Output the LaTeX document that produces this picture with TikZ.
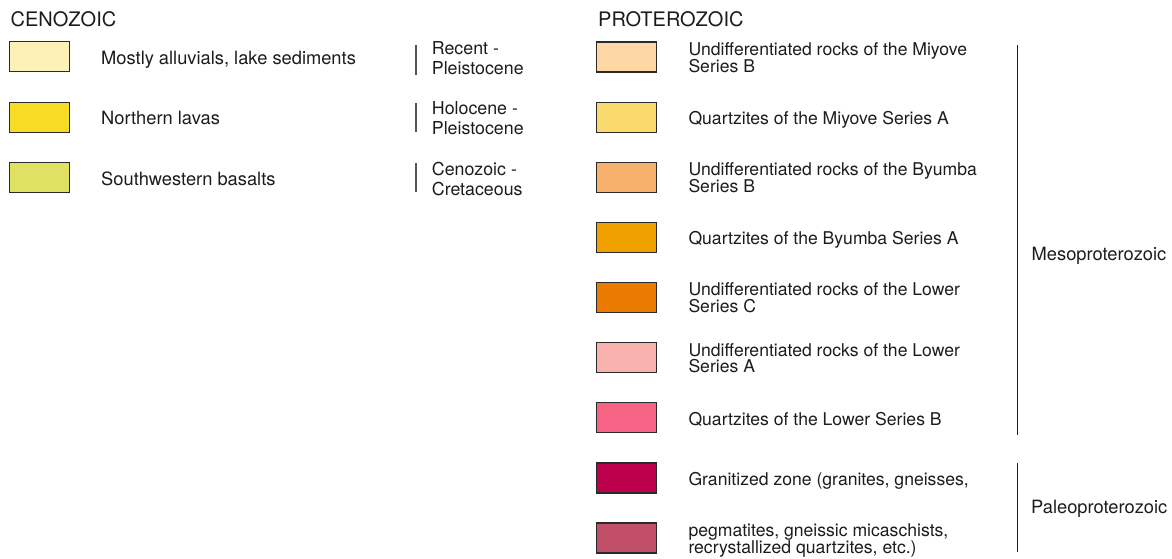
\documentclass[tikz,border=0pt]{standalone}
\usepackage{fontspec}
\setmainfont{TeX Gyre Heros}
\definecolor{txt}{HTML}{1C1C1C}
\definecolor{boxline}{HTML}{2A2A2A}
\definecolor{erabar}{HTML}{555555}
\definecolor{colA}{HTML}{FCF2B8}
\definecolor{colB}{HTML}{F6DC24}
\definecolor{colC}{HTML}{DFE162}
\definecolor{colP}{HTML}{FDD8A4}
\definecolor{colQ}{HTML}{FBDA6D}
\definecolor{colR}{HTML}{F8B16D}
\definecolor{colS}{HTML}{F0A100}
\definecolor{colT}{HTML}{EB7A00}
\definecolor{colU}{HTML}{F8B1AD}
\definecolor{colV}{HTML}{F76384}
\definecolor{colW}{HTML}{BC004B}
\definecolor{colX}{HTML}{C24F69}
\newcommand\lgtwo[2]{\vtop{\lineskiplimit=-20pt\hbox{#1}\hbox{#2}}}
\begin{document}
\begin{tikzpicture}[x=1pt,y=-1pt,
  swatch/.style={draw=boxline, line width=1.1pt, minimum width=60pt, minimum height=30pt, inner sep=0pt},
  lbl/.style={anchor=base west, inner sep=0pt, text=txt, font=\fontsize{17.6}{16.7}\selectfont},
  lbig/.style={anchor=base west, inner sep=0pt, text=txt, font=\fontsize{18.3}{20}\selectfont},
  era/.style={anchor=base west, inner sep=0pt, text=txt, font=\fontsize{17.8}{20}\selectfont},
  ttl/.style={anchor=base west, inner sep=0pt, text=txt, font=\fontsize{20}{24}\selectfont},
  ebar/.style={draw=erabar, line width=1.5pt},
  gbar/.style={draw=txt, line width=1.3pt}]
\useasboundingbox (0,0) rectangle (1172,558);

% titles
\node[ttl] (tcen) at (10.5,26.7) {CENOZOIC};
\node[ttl] (tpro) at (598,26.7) {PROTEROZOIC};

% Cenozoic column
\node[swatch, fill=colA] (ca) at (39.75,56.75) {};
\node[lbig] (cat) at (101,64) {Mostly alluvials, lake sediments};
\coordinate (caa) at (416,45); \coordinate (cab) at (416,74.5);
\draw[ebar] (caa) -- (cab);
\node[era] (cae) at (431.7,54) {\lgtwo{Recent -}{Pleistocene}};

\node[swatch, fill=colB] (cb) at (39.75,117.25) {};
\node[lbig] (cbt) at (101,124.5) {Northern lavas};
\coordinate (cba) at (416,103); \coordinate (cbb) at (416,132);
\draw[ebar] (cba) -- (cbb);
\node[era] (cbe) at (431.7,114.5) {\lgtwo{Holocene -}{Pleistocene}};

\node[swatch, fill=colC] (cc) at (39.75,177.75) {};
\node[lbig] (cct) at (101,185) {Southwestern basalts};
\coordinate (cca) at (416,163); \coordinate (ccb) at (416,192);
\draw[ebar] (cca) -- (ccb);
\node[era] (cce) at (431.7,175) {\lgtwo{Cenozoic -}{Cretaceous}};

% Proterozoic column
\node[swatch, fill=colP] (pa) at (626.7,57) {};
\node[lbl] (pat) at (688.3,55.3) {\lgtwo{Undifferentiated rocks of the Miyove}{Series B}};
\node[swatch, fill=colQ] (pb) at (626.7,117.1) {};
\node[lbl] (pbt) at (688.3,124.4) {Quartzites of the Miyove Series A};
\node[swatch, fill=colR] (pc) at (626.7,177.3) {};
\node[lbl] (pct) at (688.3,175.6) {\lgtwo{Undifferentiated rocks of the Byumba}{Series B}};
\node[swatch, fill=colS] (pd) at (626.7,237.4) {};
\node[lbl] (pdt) at (688.3,244.7) {Quartzites of the Byumba Series A};
\node[swatch, fill=colT] (pe) at (626.7,297.5) {};
\node[lbl] (pet) at (688.3,295.8) {\lgtwo{Undifferentiated rocks of the Lower}{Series C}};
\node[swatch, fill=colU] (pf) at (626.7,357.7) {};
\node[lbl] (pft) at (688.3,356) {\lgtwo{Undifferentiated rocks of the Lower}{Series A}};
\node[swatch, fill=colV] (pg) at (626.7,417.8) {};
\node[lbl] (pgt) at (688.3,425.1) {Quartzites of the Lower Series B};
\node[swatch, fill=colW] (ph) at (626.7,478) {};
\node[lbl] (pht) at (688.3,485.3) {Granitized zone (granites, gneisses,};
\node[swatch, fill=colX] (pi) at (626.7,538) {};
\node[lbl] (pit) at (688.3,536.3) {\lgtwo{pegmatites, gneissic micaschists,}{recrystallized quartzites, etc.)}};

% era bars
\coordinate (mta) at (1017.5,45); \coordinate (mtb) at (1017.5,435);
\draw[gbar] (mta) -- (mtb);
\node[lbig] (meso) at (1031.5,260) {Mesoproterozoic};
\coordinate (pla) at (1017.5,463); \coordinate (plb) at (1017.5,552);
\draw[gbar] (pla) -- (plb);
\node[lbig] (paleo) at (1031,513.5) {Paleoproterozoic};
\end{tikzpicture}
\end{document}
